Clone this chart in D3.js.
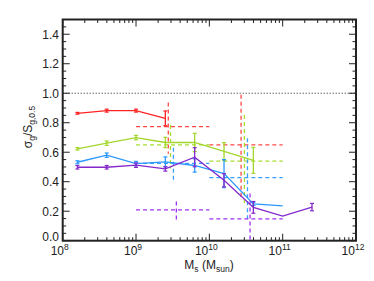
<!DOCTYPE html>
<html><head><meta charset="utf-8">
<script src="https://cdn.jsdelivr.net/npm/d3@7"></script>
<style>body{margin:0;background:#fff}svg{display:block}text{font-family:"Liberation Sans",Arial,sans-serif;fill:#222}</style>
</head><body><svg id="c" width="374" height="281"></svg>
<script>
// masses (log10 Msun) of the binned points
const logMass = [8.2, 8.6, 9.0, 9.4, 9.8, 10.2, 10.6, 11.0, 11.4];
const redVals = [0.864, 0.882, 0.882, 0.83];
const redErr  = [0.006, 0.010, 0.010, 0.050];
const greenVals = [0.623, 0.661, 0.699, 0.666, 0.666, 0.605, 0.545];
const greenErr  = [0.008, 0.015, 0.015, 0.035, 0.062, 0.060, 0.088];
const blueVals = [0.532, 0.580, 0.523, 0.534, 0.510, 0.455, 0.249, 0.236];
const blueErr  = [0.010, 0.015, 0.015, 0.034, 0.045, 0.095, 0.010, null];
const purpleVals = [0.498, 0.498, 0.512, 0.487, 0.566, 0.410, 0.226, 0.167, 0.228];
const purpleErr  = [0.012, 0.012, 0.015, 0.015, 0.065, 0.045, 0.040, null, 0.025];
// dashed reference crosses: horizontal over a mass range, vertical at a mass
const crossRangeLow  = [9, 10];   // log mass start
const crossRangeHigh = [10, 11];  // log mass end
const redCross    = [{h:0.774, vx:9.44, v0:0.59, v1:0.937}, {h:0.650, vx:10.433, v0:0.276, v1:0.99}];
const greenCross  = [{h:0.650, vx:9.47, v0:0.49, v1:0.785}, {h:0.540, vx:10.478, v0:0.256, v1:0.852}];
const blueCross   = [{h:0.525, vx:9.51, v0:0.40, v1:0.63},  {h:0.428, vx:10.52, v0:0.14, v1:0.695}];
const purpleCross = [{h:0.209, vx:9.55, v0:0.137, v1:0.265},{h:0.148, vx:10.555, v0:0.0, v1:0.32}];
const xTickExp = [8, 9, 10, 11, 12];
const yTicks = [0.0, 0.2, 0.4, 0.6, 0.8, 1.0, 1.2, 1.4];
const refLine = 1.0;

const series = [
  {vals: redVals, err: redErr, cross: redCross, col: "#ff2222", dcol: "#ff4848"},
  {vals: greenVals, err: greenErr, cross: greenCross, col: "#a2d62a", dcol: "#a8dc30"},
  {vals: blueVals, err: blueErr, cross: blueCross, col: "#2a98ff", dcol: "#3aa0ff"},
  {vals: purpleVals, err: purpleErr, cross: purpleCross, col: "#8428cc", dcol: "#a030f0"}
];

const L = 62.7, R = 356, T = 19.5, B = 240.7;
const svg = d3.select("#c");
const x = d3.scaleLog().domain([1e8, 1e12]).range([L, R]);
const y = d3.scaleLinear().domain([0, 1.5]).range([B, T]);
const X = lm => x(Math.pow(10, lm));

const g = svg.append("g");
// reference dotted line
g.append("line").attr("x1", L).attr("x2", R).attr("y1", y(refLine)).attr("y2", y(refLine))
  .attr("stroke", "#222").attr("stroke-width", 1).attr("stroke-dasharray", "1,2");

// dashed crosses
series.forEach(s => {
  s.cross.forEach((c, i) => {
    g.append("line").attr("x1", X(crossRangeLow[i])).attr("x2", X(crossRangeHigh[i]))
      .attr("y1", y(c.h)).attr("y2", y(c.h))
      .attr("stroke", s.dcol).attr("stroke-width", 1.3).attr("stroke-dasharray", "4,3");
    g.append("line").attr("x1", X(c.vx)).attr("x2", X(c.vx))
      .attr("y1", y(c.v1)).attr("y2", y(c.v0))
      .attr("stroke", s.dcol).attr("stroke-width", 1.3).attr("stroke-dasharray", "4,3");
  });
});

// solid lines with error bars
const line = d3.line().x((d, i) => X(logMass[i])).y(d => y(d));
series.forEach(s => {
  g.append("path").datum(s.vals).attr("d", line).attr("fill", "none")
    .attr("stroke", s.col).attr("stroke-width", 1.3);
  s.vals.forEach((v, i) => {
    const e = s.err[i];
    if (e == null) return;
    const cx = X(logMass[i]);
    g.append("line").attr("x1", cx).attr("x2", cx).attr("y1", y(v - e)).attr("y2", y(v + e))
      .attr("stroke", s.col).attr("stroke-width", 1.3);
    [v - e, v + e].forEach(t => g.append("line").attr("x1", cx - 2).attr("x2", cx + 2)
      .attr("y1", y(t)).attr("y2", y(t)).attr("stroke", s.col).attr("stroke-width", 1.2));
  });
});

// axes frame with inward ticks (IDL style)
const ax = svg.append("g").attr("stroke", "#222");
ax.append("rect").attr("x", L).attr("y", T).attr("width", R - L).attr("height", B - T)
  .attr("fill", "none").attr("stroke-width", 2);
// x ticks
for (let e = 8; e < 12; e++) {
  for (let k = 1; k <= 9; k++) {
    const xv = x(k * Math.pow(10, e));
    const len = k === 1 ? 7 : 3.5;
    ax.append("line").attr("x1", xv).attr("x2", xv).attr("y1", B).attr("y2", B - len).attr("stroke-width", 1);
    ax.append("line").attr("x1", xv).attr("x2", xv).attr("y1", T).attr("y2", T + len).attr("stroke-width", 1);
  }
}
// y ticks
for (let v = 0; v <= 1.5001; v += 0.05) {
  const major = Math.abs(v * 5 - Math.round(v * 5)) < 1e-6;
  const len = major ? 7 : 3.5;
  const yv = y(v);
  ax.append("line").attr("x1", L).attr("x2", L + len).attr("y1", yv).attr("y2", yv).attr("stroke-width", 1);
  ax.append("line").attr("x1", R).attr("x2", R - len).attr("y1", yv).attr("y2", yv).attr("stroke-width", 1);
}
// y tick labels (bottom one nudged up, as in the original)
yTicks.forEach(v => {
  svg.append("text").attr("x", 59).attr("y", y(v) + (v === 0 ? 0.5 : 4.3)).attr("text-anchor", "end")
    .attr("font-size", 12).text(d3.format(".1f")(v));
});
// x tick labels
xTickExp.forEach(e => {
  const t = svg.append("text").attr("x", x(Math.pow(10, e)) - 3).attr("y", 255).attr("text-anchor", "middle").attr("font-size", 12);
  t.append("tspan").text("10");
  t.append("tspan").attr("dy", -5).attr("font-size", 8.5).text(e);
});
// axis titles
const xt = svg.append("text").attr("x", 209).attr("y", 269).attr("text-anchor", "middle").attr("font-size", 12);
xt.append("tspan").text("M");
xt.append("tspan").attr("dy", 2.5).attr("font-size", 8.5).text("s");
xt.append("tspan").attr("dy", -2.5).text(" (M");
xt.append("tspan").attr("dy", 2.5).attr("font-size", 8.5).text("sun");
xt.append("tspan").attr("dy", -2.5).text(")");

const yt = svg.append("text").attr("transform", "translate(32,127) rotate(-90)").attr("text-anchor", "middle").attr("font-size", 12);
yt.append("tspan").text("σ");
yt.append("tspan").attr("dy", 2.5).attr("font-size", 8.5).text("g");
yt.append("tspan").attr("dy", -2.5).text("/S");
yt.append("tspan").attr("dy", 2.5).attr("font-size", 8.5).text("g,0.5");
</script></body></html>
